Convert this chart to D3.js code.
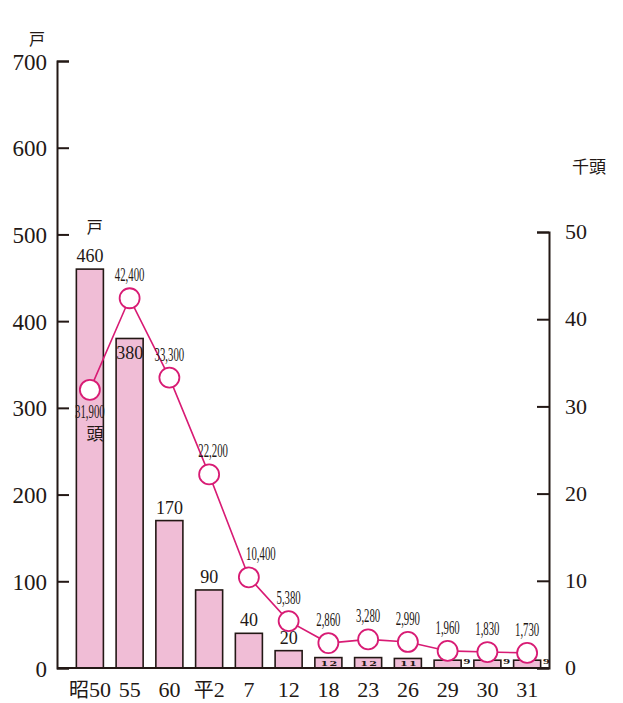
<!DOCTYPE html>
<html><head><meta charset="utf-8">
<script src="https://cdn.jsdelivr.net/npm/d3@7"></script>
<style>
html,body{margin:0;padding:0;background:#fff;}
svg{display:block;}
svg text{font-family:"Liberation Serif",serif;}
</style></head>
<body>
<script>
const categories = ["昭50","55","60","平2","7","12","18","23","26","29","30","31"];
const households = [460,380,170,90,40,20,12,12,11,9,9,9];          // 戸
const cattle = [31.9,42.4,33.3,22.2,10.4,5.38,2.86,3.28,2.99,1.96,1.83,1.73]; // 千頭
const cattleLabels = ["31,900","42,400","33,300","22,200","10,400","5,380","2,860","3,280","2,990","1,960","1,830","1,730"];
const leftTicks = [0,100,200,300,400,500,600,700];
const rightTicks = [0,10,20,30,40,50];

const W = 623, H = 703;
const ink = "#231815", pink = "#F0BDD6", magenta = "#D81B74";
const serif = "Liberation Serif";
const cjk = "Noto Sans CJK JP";

const svg = d3.select("body").append("svg").attr("width", W).attr("height", H);

const x = d3.scaleBand().domain(categories).range([70, 547]).paddingInner(0.32).paddingOuter(0.16);
const yL = d3.scaleLinear().domain([0, 700]).range([668, 61]);
const yR = d3.scaleLinear().domain([0, 50]).range([668, 232]);
const cx = c => x(c) + x.bandwidth() / 2;

// bars
svg.append("g").selectAll("rect").data(categories).join("rect")
  .attr("x", c => x(c)).attr("width", x.bandwidth())
  .attr("y", (c, i) => yL(households[i]))
  .attr("height", (c, i) => yL(0) - yL(households[i]))
  .attr("fill", pink).attr("stroke", ink).attr("stroke-width", 1.6);

// left axis
const gL = svg.append("g").attr("transform", "translate(57,0)")
  .call(d3.axisLeft(yL).tickValues(leftTicks).tickSize(-12).tickPadding(10).tickFormat(d3.format("d")));
gL.attr("font-family", null);
gL.selectAll("path,line").attr("stroke", ink).attr("stroke-width", 2);
gL.selectAll("text").style("font-family", serif).attr("font-size", 23).attr("fill", ink).attr("dy", "0.35em");

// right axis
const gR = svg.append("g").attr("transform", "translate(549,0)")
  .call(d3.axisRight(yR).tickValues(rightTicks).tickSize(-12).tickPadding(16).tickFormat(d3.format("d")));
gR.attr("font-family", null);
gR.selectAll("path,line").attr("stroke", ink).attr("stroke-width", 2);
gR.selectAll("text").style("font-family", serif).attr("font-size", 22).attr("fill", ink).attr("dy", "0.3em");

// baseline
svg.append("line").attr("x1", 57).attr("x2", 549).attr("y1", 668).attr("y2", 668)
  .attr("stroke", ink).attr("stroke-width", 2);

// x labels
const gX = svg.append("g").attr("transform", "translate(0,668)")
  .call(d3.axisBottom(x).tickSize(0).tickPadding(29));
gX.attr("font-family", null);
gX.select(".domain").remove();
gX.selectAll("text").style("font-family", serif).attr("font-size", 22).attr("fill", ink).attr("dy", 0)
  .each(function(d){
    const t = d3.select(this);
    const m = d.match(/^([^0-9]*)([0-9]+)$/);
    if (m && m[1]) {
      t.text(null);
      t.append("tspan").style("font-family", cjk).attr("font-size", 20).text(m[1]);
      t.append("tspan").text(m[2]);
    }
  });

// bar value labels
categories.forEach((c, i) => {
  const v = households[i];
  if (v >= 15) {
    const inside = i === 1;
    svg.append("text").attr("x", cx(c)).attr("y", inside ? yL(v) + 21 : yL(v) - 7)
      .attr("text-anchor", "middle").style("font-family", serif).attr("font-size", 18)
      .attr("fill", ink).text(v);
  } else if (v >= 10) {
    svg.append("text").attr("transform", `translate(${cx(c) + 1},${yL(0) - 2.5}) scale(1.4,1)`)
      .attr("text-anchor", "middle").style("font-family", "DejaVu Serif").attr("font-weight", "bold")
      .attr("font-size", 8).attr("letter-spacing", 0.8).attr("fill", ink).text(v);
  } else {
    svg.append("text").attr("transform", `translate(${x(c) + x.bandwidth() + 2},${yL(v) + 4}) scale(1.3,1)`)
      .style("font-family", "DejaVu Serif").attr("font-weight", "bold")
      .attr("font-size", 8).attr("fill", ink).text(v);
  }
});

// line
const line = d3.line().x((d, i) => cx(categories[i])).y(d => yR(d));
svg.append("path").datum(cattle).attr("d", line).attr("fill", "none")
  .attr("stroke", magenta).attr("stroke-width", 1.6);
svg.append("g").selectAll("circle").data(cattle).join("circle")
  .attr("cx", (d, i) => cx(categories[i])).attr("cy", d => yR(d)).attr("r", 10)
  .attr("fill", "#fff").attr("stroke", magenta).attr("stroke-width", 1.8);

// line labels (condensed)
cattle.forEach((d, i) => {
  const below = i === 0;
  const dx = i === 4 ? 12 : (i === 3 ? 4 : 0);
  const px = cx(categories[i]) + dx;
  const py = below ? yR(d) + 28 : yR(d) - 17;
  svg.append("text").attr("transform", `translate(${px},${py}) scale(0.6,1)`)
    .attr("text-anchor", "middle").style("font-family", serif).attr("font-size", 18)
    .attr("fill", ink).text(cattleLabels[i]);
});

// unit labels
svg.append("text").attr("x", 37).attr("y", 45).attr("text-anchor", "middle")
  .style("font-family", cjk).attr("font-size", 16).attr("fill", ink).text("戸");
svg.append("text").attr("x", cx(categories[0]) + 5).attr("y", yL(households[0]) - 36).attr("text-anchor", "middle")
  .style("font-family", cjk).attr("font-size", 16).attr("fill", ink).text("戸");
svg.append("text").attr("x", cx(categories[0]) + 5).attr("y", yR(cattle[0]) + 50).attr("text-anchor", "middle")
  .style("font-family", cjk).attr("font-size", 17).attr("fill", ink).text("頭");
svg.append("text").attr("x", 589).attr("y", 173).attr("text-anchor", "middle")
  .style("font-family", cjk).attr("font-size", 17).attr("fill", ink).text("千頭");
</script>
</body></html>
